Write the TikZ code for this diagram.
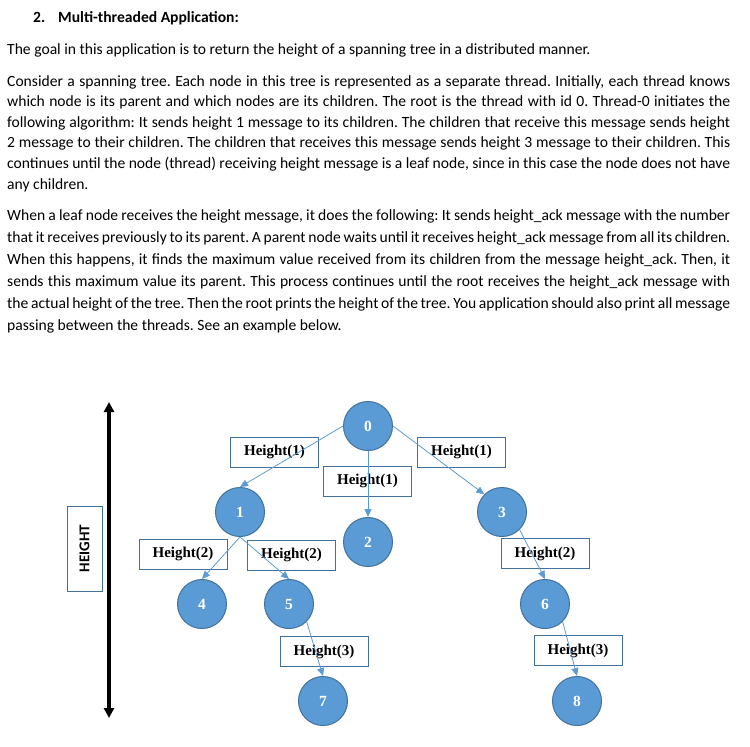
\documentclass[tikz,border=0pt]{standalone}
\usepackage{fontspec}
\setmainfont{Carlito}
\newfontfamily\timesfont{Liberation Serif}
\usetikzlibrary{arrows.meta}
\definecolor{nodeblue}{HTML}{5B9BD5}
\definecolor{rimblue}{HTML}{41719C}
\tikzset{
  thread/.style={circle, fill=nodeblue, draw=rimblue, line width=1pt, minimum size=49pt,
    inner sep=0pt, text=white, font=\timesfont\bfseries\fontsize{15.5}{15.5}\selectfont},
  msg/.style={draw=rimblue, line width=1pt, minimum width=88pt, minimum height=30pt,
    inner sep=0pt, font=\timesfont\bfseries\fontsize{15}{15}\selectfont},
  send/.style={draw=nodeblue, line width=0.8pt, -{Triangle[length=8pt,width=7pt]}},
  textline/.style={anchor=base west, inner sep=0pt, font=\fontsize{15.6}{18}\selectfont},
}
\frenchspacing
\begin{document}
\begin{tikzpicture}[x=1pt,y=-1pt]
\useasboundingbox (0,0) rectangle (750,747);
% heading and text
\node[textline, font=\bfseries\fontsize{15.6}{18}\selectfont] (num) at (33,22) {2.};
\node[textline, font=\bfseries\fontsize{15.6}{18}\selectfont] (title) at (58,22) {Multi-threaded Application:};
\node[textline] (goal) at (7,54) {The goal in this application is to return the height of a spanning tree in a distributed manner.};
\foreach \k/\y/\txt in {1/86/{Consider a spanning tree. Each node in this tree is represented as a separate thread. Initially, each thread knows},
    2/106.6/{which node is its parent and which nodes are its children. The root is the thread with id 0. Thread-0 initiates the},
    3/127.2/{following algorithm: It sends height 1 message to its children. The children that receive this message sends height},
    4/147.8/{2 message to their children. The children that receives this message sends height 3 message to their children. This},
    5/168.4/{continues until the node (thread) receiving height message is a leaf node, since in this case the node does not have}}
    \node[textline] (consider\k) at (7,\y) {\makebox[723pt][s]{\txt}};
\node[textline] (consider6) at (7,189) {any children.};
\foreach \k/\y/\txt in {1/220.7/{When a leaf node receives the height message, it does the following: It sends height\_ack message with the number},
    2/242.6/{that it receives previously to its parent. A parent node waits until it receives height\_ack message from all its children.},
    3/264.5/{When this happens, it finds the maximum value received from its children from the message height\_ack. Then, it},
    4/286.4/{sends this maximum value its parent. This process continues until the root receives the height\_ack message with},
    5/308.3/{the actual height of the tree. Then the root prints the height of the tree. You application should also print all message}}
    \node[textline] (leaf\k) at (7,\y) {\makebox[723pt][s]{\txt}};
\node[textline] (leaf6) at (7,330.2) {passing between the threads. See an example below.};
% height axis
\coordinate (axtop) at (109,402);
\coordinate (axbot) at (109,718);
\draw[line width=3.5pt, {Triangle[length=10pt,width=10pt]}-{Triangle[length=10pt,width=10pt]}] (axbot) -- (axtop);
\node[msg, rotate=90, minimum width=85pt, minimum height=35pt,
  font=\bfseries\fontsize{15}{15}\selectfont] (hgt) at (84.5,548.5) {HEIGHT};
% threads
\node[thread] (t0) at (368,426) {0};
\node[thread] (t1) at (240,512) {1};
\node[thread] (t2) at (368,542) {2};
\node[thread] (t3) at (502,512) {3};
\node[thread] (t4) at (202,604) {4};
\node[thread] (t5) at (289,604) {5};
\node[thread] (t6) at (545,604) {6};
\node[thread] (t7) at (323,701) {7};
\node[thread] (t8) at (577,701) {8};
% messages
\node[msg] (m01) at (274.5,452) {Height(1)};
\node[msg] (m02) at (367.5,481) {Height(1)};
\node[msg] (m03) at (461.5,452) {Height(1)};
\node[msg] (m14) at (183,554) {Height(2)};
\node[msg] (m15) at (291.5,555) {Height(2)};
\node[msg] (m36) at (545,553.5) {Height(2)};
\node[msg] (m57) at (324,651.5) {Height(3)};
\node[msg] (m68) at (578,650.5) {Height(3)};
\draw[send] (t0.west) -- (t1.north);
\draw[send] (t0.south) -- (t2.north);
\draw[send] (t0.east) -- (t3.north west);
\draw[send] (t1.south) -- (t4.north);
\draw[send] (t1.south) -- (t5.north);
\draw[send] (t3.south east) -- (t6.north);
\draw[send] (t5.south east) -- (t7.north);
\draw[send] (t6.south east) -- (t8.north);
\end{tikzpicture}
\end{document}
